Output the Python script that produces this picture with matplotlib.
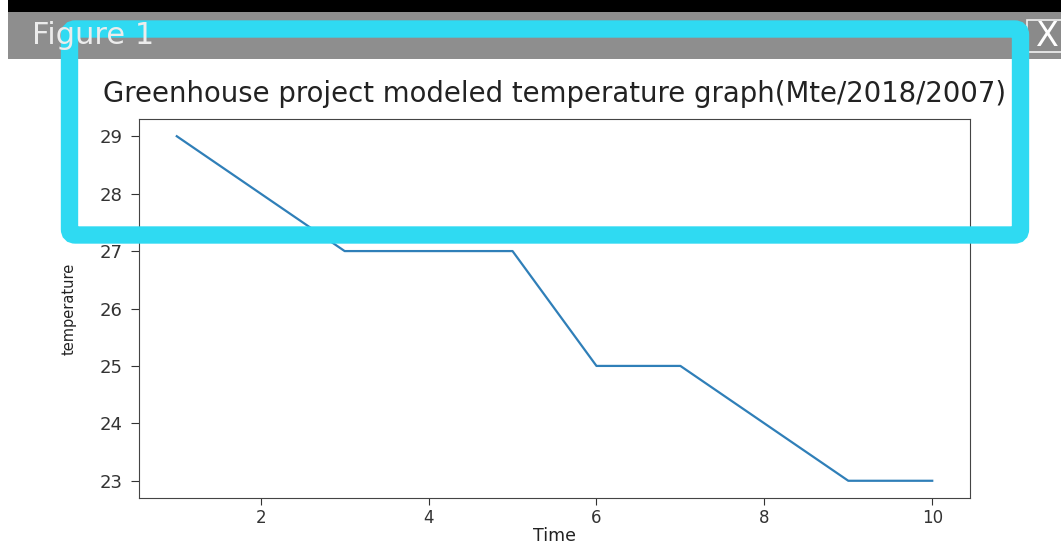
import matplotlib
matplotlib.use('Agg')
import matplotlib.pyplot as plt
from matplotlib.patches import Rectangle, FancyBboxPatch

# data
time = [1, 2, 3, 4, 5, 6, 7, 8, 9, 10]
temperature = [29, 28, 27, 27, 27, 25, 25, 24, 23, 23]

title = 'Greenhouse project modeled temperature graph(Mte/2018/2007)'
window_title = 'Figure 1'

W, H = 1061, 544
fig = plt.figure(figsize=(W / 100, H / 100), dpi=100)
fig.patch.set_facecolor('white')

# main plot
ax = fig.add_axes([139 / W, 1 - 498 / H, (970 - 139) / W, (498 - 119) / H])
ax.plot(time, temperature, color='#2f7fb8', linewidth=1.6)
ax.set_title(title, fontsize=19.8, pad=12, color='#222222')
ax.set_xlabel('Time', fontsize=12.5, labelpad=0, color='#222222')
ax.set_ylabel('temperature', fontsize=10.5, labelpad=16, color='#222222')
ax.set_xticks([2, 4, 6, 8, 10])
ax.set_yticks([23, 24, 25, 26, 27, 28, 29])
ax.tick_params(axis='y', labelsize=13, colors='#333333', length=6, pad=6)
ax.tick_params(axis='x', labelsize=12, colors='#333333', length=5, pad=3)
for s in ax.spines.values():
    s.set_color('#444444')

# window chrome and highlight box, drawn in pixel coordinates on top
ov = fig.add_axes([0, 0, 1, 1], zorder=10)
ov.set_xlim(0, W)
ov.set_ylim(H, 0)
ov.axis('off')
ov.patch.set_alpha(0)

ov.add_patch(Rectangle((8, 0), W - 8, 12, facecolor='black', edgecolor='none'))
ov.add_patch(Rectangle((8, 12), W - 8, 47, facecolor='#8e8e8e', edgecolor='none'))
ov.text(32, 44, window_title, fontsize=22, color='#ececec', va='baseline', ha='left')

# close button
ov.add_patch(Rectangle((1027, 20), 40, 32, facecolor='#8a8a8a', edgecolor='#f2f2f2', linewidth=1.2))
ov.text(1047, 37, 'X', fontsize=24, color='white', ha='center', va='center')

# cyan highlight rectangle
ov.add_patch(FancyBboxPatch((69.5, 29), 1020.5 - 69.5, 235 - 29,
                            boxstyle='round,pad=0,rounding_size=6',
                            facecolor='none', edgecolor='#2fdaf2', linewidth=12.5))

fig.savefig('out.png', dpi=100)
